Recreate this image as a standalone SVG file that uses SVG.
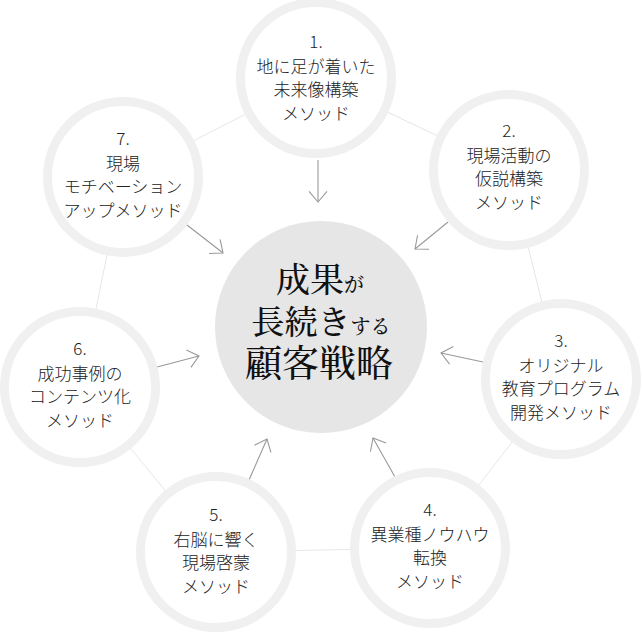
<svg xmlns="http://www.w3.org/2000/svg" width="642" height="633" viewBox="0 0 642 633">
<style>
.ring{fill:#ffffff;stroke:#f0f0f0;stroke-width:9}
.lbl{font-family:"Noto Sans CJK JP","Noto Sans",sans-serif;font-size:17px;font-weight:300;fill:#222;text-anchor:middle}
.edge{stroke:#e6e6e6;stroke-width:1;fill:none}
.arr{stroke:#999;stroke-width:1.1;fill:none;marker-end:url(#ah)}
.core{font-family:"Noto Serif CJK JP","Noto Sans CJK JP",serif;fill:#111;text-anchor:middle;font-weight:500}
</style>
<defs>
<marker id="ah" markerUnits="userSpaceOnUse" markerWidth="30" markerHeight="30" viewBox="-15 -15 30 30" refX="0" refY="0" orient="auto">
<path d="M-10.7,-9 L0,0 L-10.7,9" fill="none" stroke="#999" stroke-width="1.1"/>
</marker>
</defs>
<rect width="642" height="633" fill="#ffffff"/>
<g id="connectors">
<polygon class="edge" points="316,78 509,170 561,379 430,548 216,552 80,387 123,177"/>
<line class="arr" x1="318" y1="160" x2="318" y2="202"/>
<line class="arr" x1="448" y1="222" x2="415" y2="249"/>
<line class="arr" x1="483" y1="362" x2="441" y2="353"/>
<line class="arr" x1="395" y1="477" x2="373" y2="438"/>
<line class="arr" x1="249" y1="480" x2="267" y2="439"/>
<line class="arr" x1="157" y1="367" x2="199" y2="356"/>
<line class="arr" x1="187" y1="225" x2="223" y2="253"/>
</g>
<g id="center">
<circle cx="321" cy="327" r="106" fill="#e6e6e7"/>
<text class="core" x="320" y="292"><tspan font-size="34">成果</tspan><tspan font-size="20">が</tspan></text>
<text class="core" x="321" y="334"><tspan font-size="33">長続き</tspan><tspan font-size="20">する</tspan></text>
<text class="core" x="319" y="377" font-size="37">顧客戦略</text>
</g>
<g id="node1">
<circle class="ring" cx="316" cy="78" r="75.5"/>
<text class="lbl" x="316" y="48">1.</text>
<text class="lbl" x="316" y="72.5">地に足が着いた</text>
<text class="lbl" x="316" y="96">未来像構築</text>
<text class="lbl" x="316" y="119.5">メソッド</text>
</g>
<g id="node2">
<circle class="ring" cx="509" cy="170" r="75.5"/>
<text class="lbl" x="509" y="137">2.</text>
<text class="lbl" x="509" y="161.5">現場活動の</text>
<text class="lbl" x="509" y="185">仮説構築</text>
<text class="lbl" x="509" y="208.5">メソッド</text>
</g>
<g id="node3">
<circle class="ring" cx="561" cy="379" r="75.5"/>
<text class="lbl" x="561" y="347">3.</text>
<text class="lbl" x="561" y="371.5">オリジナル</text>
<text class="lbl" x="561" y="395">教育プログラム</text>
<text class="lbl" x="561" y="418.5">開発メソッド</text>
</g>
<g id="node4">
<circle class="ring" cx="430" cy="548" r="75.5"/>
<text class="lbl" x="430" y="516">4.</text>
<text class="lbl" x="430" y="540.5">異業種ノウハウ</text>
<text class="lbl" x="430" y="564">転換</text>
<text class="lbl" x="430" y="587.5">メソッド</text>
</g>
<g id="node5">
<circle class="ring" cx="216" cy="552" r="75.5"/>
<text class="lbl" x="216" y="521">5.</text>
<text class="lbl" x="216" y="545.5">右脳に響く</text>
<text class="lbl" x="216" y="569">現場啓蒙</text>
<text class="lbl" x="216" y="592.5">メソッド</text>
</g>
<g id="node6">
<circle class="ring" cx="80" cy="387" r="75.5"/>
<text class="lbl" x="80" y="355">6.</text>
<text class="lbl" x="80" y="379.5">成功事例の</text>
<text class="lbl" x="80" y="403">コンテンツ化</text>
<text class="lbl" x="80" y="426.5">メソッド</text>
</g>
<g id="node7">
<circle class="ring" cx="123" cy="177" r="75.5"/>
<text class="lbl" x="123" y="145">7.</text>
<text class="lbl" x="123" y="169.5">現場</text>
<text class="lbl" x="123" y="193">モチベーション</text>
<text class="lbl" x="123" y="216.5">アップメソッド</text>
</g>
</svg>
